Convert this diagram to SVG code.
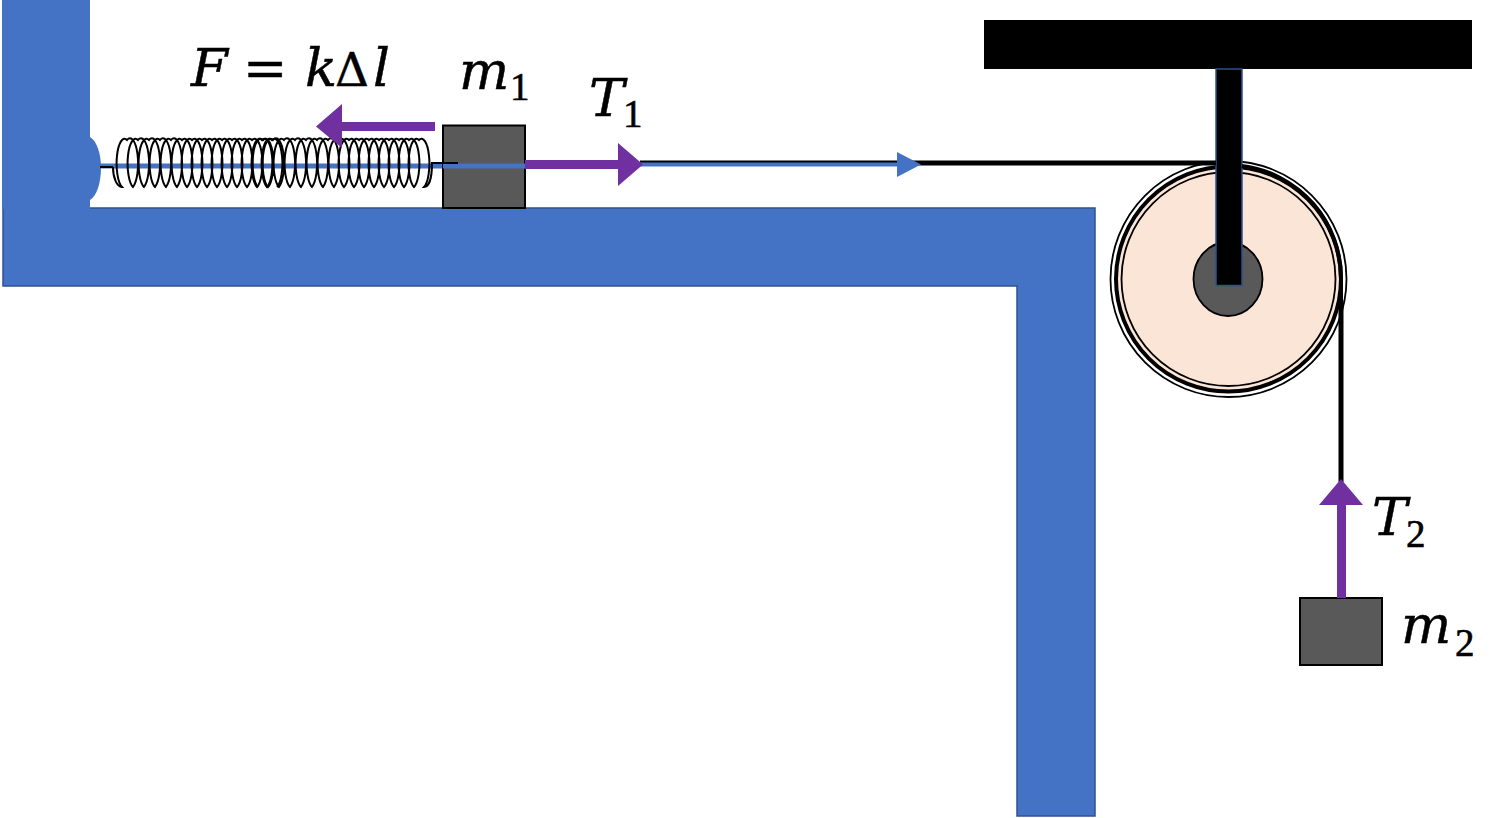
<svg xmlns="http://www.w3.org/2000/svg" width="1502" height="818" viewBox="0 0 1502 818">
<style>
.math{font-family:"DejaVu Serif","Liberation Serif",serif;font-style:italic;font-size:53px;fill:#000;stroke:#000;stroke-width:.5}
.up{font-style:normal}
.sub{font-family:"Liberation Serif","DejaVu Serif",serif;font-size:39px;fill:#000;stroke:#000;stroke-width:.6}
.box{fill:#595959;stroke:#000;stroke-width:2}
.wall{fill:#4472C4;stroke:#2F528F;stroke-width:1.5}
.purple{fill:#7030A0}
.rope{fill:none;stroke:#000}
.coil{fill:none;stroke:#000;stroke-width:2}
</style>
<rect width="1502" height="818" fill="#fff"/>
<g id="support-table">
<path class="wall" d="M3 208H1095V816H1017V286H3Z"/>
<rect x="2" y="0" width="88" height="209" fill="#4472C4"/>
<path d="M90 137C97 141 101 154 101 168C101 182 97 196 90 200Z" fill="#4472C4"/>
</g>
<g id="ceiling"><rect x="984" y="20" width="488" height="49" fill="#000"/></g>
<g id="pulley">
<circle cx="1228.5" cy="279" r="118" fill="#fff" stroke="#000" stroke-width="1.800"/>
<circle cx="1228.5" cy="279" r="112.500" fill="#FBE5D6" stroke="#000" stroke-width="4"/>
<circle cx="1228.5" cy="279" r="107" fill="#FBE5D6" stroke="#000" stroke-width="1.800"/>
<ellipse cx="1228" cy="279" rx="34.500" ry="37" fill="#595959" stroke="#000" stroke-width="1.800"/>
<rect x="1216" y="69" width="26" height="216.500" fill="#000" stroke="#2F528F" stroke-width="1.500"/>
</g>
<g id="connectors">
<path class="rope" stroke-width="5" d="M640 163H1216"/>
<path class="rope" stroke-width="5" d="M1341 300V482"/>
<path class="rope" stroke-width="4" d="M1242 166A113 113 0 0 1 1341 279V300"/>
<path d="M100 166H525" fill="none" stroke="#4472C4" stroke-width="5"/>
<path d="M100 167H113" class="rope" stroke-width="2"/>
<path class="coil" d="M113 167C113 178 117 187 122 187a7.500 23.500 0 0 1 5 -47a7.500 23.500 0 0 1 6 47a7.500 23.500 0 0 1 5 -47a7.500 23.500 0 0 1 6 47a7.500 23.500 0 0 1 5 -47a7.500 23.500 0 0 1 6 47a7.500 23.500 0 0 1 5 -47a7.500 23.500 0 0 1 6 47a7.500 23.500 0 0 1 5 -47a7.500 23.500 0 0 1 6 47a7.500 23.500 0 0 1 5 -47a7.500 23.500 0 0 1 5 47a7.500 23.500 0 0 1 5 -47a7.500 23.500 0 0 1 5 47a7.500 23.500 0 0 1 5 -47a7.500 23.500 0 0 1 5 47a7.500 23.500 0 0 1 5 -47a7.500 23.500 0 0 1 5 47a7.500 23.500 0 0 1 5 -47a7.500 23.500 0 0 1 5 47a7.500 23.500 0 0 1 5 -47a7.500 23.500 0 0 1 5 47a7.500 23.500 0 0 1 5 -47a7.500 23.500 0 0 1 5 47a7.500 23.500 0 0 1 5 -47a7.500 23.500 0 0 1 5 47a7.500 23.500 0 0 1 5 -47a7.500 23.500 0 0 1 5 47a7.500 23.500 0 0 1 5 -47a7.500 23.500 0 0 1 5 47"/>
<path class="coil" d="M258 187a7.500 23.500 0 0 1 5 -47a7.500 23.500 0 0 1 5 47a7.500 23.500 0 0 1 5 -47a7.500 23.500 0 0 1 6 47a7.500 23.500 0 0 1 5 -47a7.500 23.500 0 0 1 6 47a7.500 23.500 0 0 1 5 -47a7.500 23.500 0 0 1 6 47a7.500 23.500 0 0 1 5 -47a7.500 23.500 0 0 1 6 47a7.500 23.500 0 0 1 5 -47a7.500 23.500 0 0 1 6 47a7.500 23.500 0 0 1 5 -47a7.500 23.500 0 0 1 6 47a7.500 23.500 0 0 1 5 -47a7.500 23.500 0 0 1 5 47a7.500 23.500 0 0 1 5 -47a7.500 23.500 0 0 1 5 47a7.500 23.500 0 0 1 5 -47a7.500 23.500 0 0 1 5 47a7.500 23.500 0 0 1 5 -47a7.500 23.500 0 0 1 5 47a7.500 23.500 0 0 1 5 -47a7.500 23.500 0 0 1 5 47a7.500 23.500 0 0 1 5 -47a7.500 23.500 0 0 1 5 47a7.500 23.500 0 0 1 5 -47a7.500 23.500 0 0 1 5 47a7.500 23.500 0 0 1 5 -47a7.500 23.500 0 0 1 5 47a7.500 23.500 0 0 1 5 -47a7.500 23.500 0 0 1 5 47C429 187 432 178 432 163H458"/>
<path d="M640 164.500H900" fill="none" stroke="#4472C4" stroke-width="4"/>
<polygon points="897,152 921,164.500 897,177" fill="#4472C4"/>
</g>
<g id="mass-1"><rect class="box" x="443" y="125.500" width="82" height="82.500"/>
<path d="M443 166H525" stroke="#4472C4" stroke-width="5" fill="none"/>
<path d="M432 163H458" stroke="#000" stroke-width="2" fill="none"/></g>
<g id="mass-2"><rect class="box" x="1300" y="598" width="82" height="67"/></g>
<g id="force-spring"><polygon class="purple" points="435,122 342,122 342,104 316,126.500 342,148 342,131 435,131"/></g>
<g id="force-t1"><polygon class="purple" points="525,160 618,160 618,143 643,164.500 618,186 618,169 525,169"/></g>
<g id="force-t2"><polygon class="purple" points="1337,598 1337,505 1319,505 1341,479 1363,505 1346,505 1346,598"/></g>
<g id="labels">
<text class="math" x="191" y="86">F</text>
<text class="math up" x="243" y="86">=</text>
<text class="math" x="305" y="86">k</text>
<text class="math up" x="335" y="86" style="font-size:47px">Δ</text>
<text class="math" x="373" y="86">l</text>
<text class="math" x="459" y="89">m</text>
<text class="sub" x="510" y="100">1</text>
<text class="math" x="589" y="116">T</text>
<text class="sub" x="623" y="127">1</text>
<text class="math" x="1372" y="535">T</text>
<text class="sub" x="1406" y="547">2</text>
<text class="math" x="1401" y="643">m</text>
<text class="sub" x="1455" y="656">2</text>
</g>
</svg>
